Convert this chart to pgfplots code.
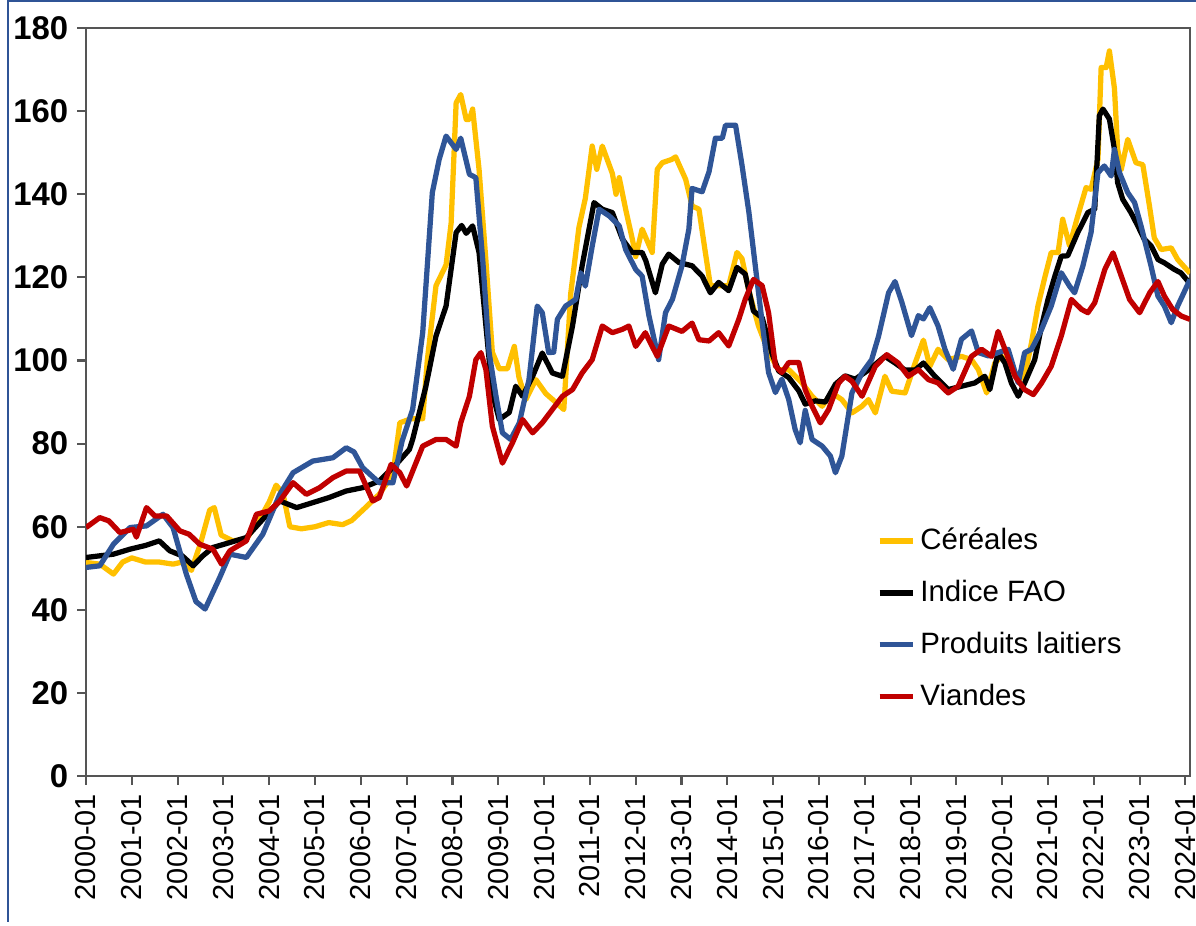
\documentclass[border=0pt]{standalone}
\usepackage{pgfplots}
\pgfplotsset{compat=1.18}
\usepackage{fontspec}
\setmainfont{Liberation Sans}
\definecolor{cYel}{RGB}{255,192,0}
\definecolor{cBlu}{RGB}{47,85,151}
\definecolor{cRed}{RGB}{192,0,0}
\definecolor{cFrame}{RGB}{47,84,150}
\definecolor{cAxis}{RGB}{85,85,85}
\begin{document}
\begin{tikzpicture}
\useasboundingbox (-1.1505,-1.993) rectangle (14.849,10.382);
\draw[cFrame, line width=0.6pt] (-1.043,-1.95) -- (-1.043,10.372) -- (14.849,10.372);
\begin{axis}[
  at={(0,0)}, anchor=south west,
  scale only axis,
  width=14.769cm, height=10.007cm,
  xmin=2000, xmax=2024.1,
  ymin=0, ymax=180,
  axis line style={cAxis, line width=0.9pt},
  every tick/.style={cAxis, line width=0.8pt},
  tick align=outside,
  major tick length=3.3pt,
  xtick pos=bottom, ytick pos=left,
  xtick={2000,2001,...,2024},
  xticklabels={2000-01,2001-01,2002-01,2003-01,2004-01,2005-01,2006-01,2007-01,2008-01,2009-01,2010-01,2011-01,2012-01,2013-01,2014-01,2015-01,2016-01,2017-01,2018-01,2019-01,2020-01,2021-01,2022-01,2023-01,2024-01},
  xticklabel style={rotate=90, anchor=east, font=\fontsize{11}{13}\selectfont},
  ytick={0,20,...,180},
  yticklabel style={font=\bfseries\fontsize{12.5}{14}\selectfont},
  /pgf/number format/assume math mode=true,
  legend style={at={(0.716,0.339)}, anchor=north west, draw=none, fill=none,
    font=\fontsize{11.2}{13}\selectfont, row sep=6.1pt, inner sep=0pt},
  legend cell align=left,
  legend image code/.code={\draw[#1] (0cm,0cm) -- (0.44cm,0cm);},
  every axis plot/.append style={line width=2pt, line join=round, no markers},
]
\addplot[cYel] coordinates {
(2000.00,51.4) (2000.3,51) (2000.6,48.6) (2000.8,51.5) (2001.0,52.5) (2001.3,51.5) (2001.6,51.5) (2001.9,51) (2002.1,51.5) (2002.3,49.5) (2002.5,56) (2002.7,64) (2002.8,64.6) (2002.95,58) (2003.2,56.6) (2003.5,57) (2003.8,62) (2004.0,66) (2004.15,70) (2004.3,68) (2004.45,60) (2004.7,59.5) (2005.0,60) (2005.3,61) (2005.6,60.5) (2005.8,61.5) (2006.1,64.6) (2006.4,67.8) (2006.7,72.6) (2006.85,85) (2007.1,86) (2007.35,86) (2007.45,100) (2007.64,118) (2007.86,123) (2007.97,133) (2008.08,162) (2008.18,164) (2008.3,158) (2008.37,158) (2008.44,160.5) (2008.58,146) (2008.73,124) (2008.87,102) (2009.02,98) (2009.2,98) (2009.35,103.4) (2009.45,96) (2009.6,90.6) (2009.82,95.4) (2010.04,92) (2010.25,90) (2010.43,88.2) (2010.58,116) (2010.76,132) (2010.9,139) (2011.05,151.6) (2011.15,146) (2011.27,151.6) (2011.49,145) (2011.57,140) (2011.64,144) (2011.78,136.4) (2011.93,129) (2012.0,125) (2012.14,131.6) (2012.36,126) (2012.47,146) (2012.58,147.6) (2012.79,148.4) (2012.87,149) (2013.09,143.6) (2013.23,137.2) (2013.38,136.4) (2013.52,126) (2013.63,118) (2014.03,118) (2014.21,126) (2014.32,124.5) (2014.47,116.8) (2014.68,108.3) (2014.9,102) (2015.12,97.8) (2015.34,97.8) (2015.63,94.6) (2015.85,91.4) (2016.07,89) (2016.28,92.2) (2016.5,90.6) (2016.72,87.4) (2016.94,89) (2017.08,90.6) (2017.23,87.4) (2017.44,96.2) (2017.59,92.6) (2017.88,92.2) (2018.1,99.4) (2018.28,104.9) (2018.42,98.6) (2018.6,102.7) (2018.82,100.2) (2019.11,101) (2019.33,100.2) (2019.48,97.8) (2019.66,92.2) (2019.84,99.4) (2019.99,101) (2020.2,97.8) (2020.35,95.4) (2020.49,96.2) (2020.64,104.3) (2020.78,113.1) (2020.93,120) (2021.07,126) (2021.22,126) (2021.32,134) (2021.47,127.6) (2021.65,134.8) (2021.83,141.6) (2021.94,141.2) (2022.09,148.4) (2022.16,170.5) (2022.27,170.5) (2022.34,174.5) (2022.45,165.5) (2022.52,150.8) (2022.6,146) (2022.74,153.2) (2022.92,147.6) (2023.07,147.1) (2023.21,137.5) (2023.32,129.5) (2023.47,126.7) (2023.69,127.1) (2023.83,124.3) (2024.1,121)
};
\addlegendentry{Céréales}
\addplot[black] coordinates {
(2000.0,52.6) (2000.3,53) (2000.6,53.4) (2000.96,54.6) (2001.3,55.5) (2001.6,56.6) (2001.83,54.2) (2002.1,53) (2002.34,50.6) (2002.55,53) (2002.77,55) (2003.14,56.2) (2003.5,57.4) (2003.86,61.8) (2004.23,66.2) (2004.6,64.6) (2004.95,65.8) (2005.3,67) (2005.68,68.6) (2006.04,69.4) (2006.4,71) (2006.77,75) (2007.06,78.6) (2007.13,81) (2007.42,93.8) (2007.64,105.9) (2007.86,113.1) (2008.08,130.8) (2008.2,132.5) (2008.3,130.6) (2008.44,132.4) (2008.58,126) (2008.73,108.3) (2008.87,92.2) (2009.02,85.8) (2009.24,87.5) (2009.38,93.8) (2009.53,91.4) (2009.75,96.2) (2009.96,101.8) (2010.18,97) (2010.4,96.2) (2010.62,108.3) (2010.83,122.8) (2011.09,138) (2011.27,136.4) (2011.49,135.6) (2011.71,129.2) (2011.92,126) (2012.14,126) (2012.22,124) (2012.43,116.3) (2012.58,123.2) (2012.72,125.6) (2012.94,123.6) (2013.23,122.8) (2013.45,120.3) (2013.63,116.3) (2013.81,118.8) (2014.03,116.8) (2014.21,122.4) (2014.39,120.8) (2014.57,111.9) (2014.76,110.3) (2014.98,101.5) (2015.12,97.5) (2015.34,95.9) (2015.56,92.7) (2015.7,89.5) (2015.92,90.3) (2016.14,90) (2016.36,94.3) (2016.57,96.3) (2016.79,95.5) (2017.08,97.7) (2017.44,101) (2017.66,99.4) (2017.88,97.7) (2018.1,97.7) (2018.28,99.4) (2018.53,96.2) (2018.82,93) (2019.11,93.8) (2019.4,94.6) (2019.62,96.2) (2019.73,93) (2019.91,101.9) (2020.06,99.4) (2020.2,94.6) (2020.35,91.4) (2020.49,94.6) (2020.71,100.2) (2020.86,108.3) (2021.0,114.7) (2021.15,120.3) (2021.29,125.1) (2021.43,125.2) (2021.65,130.8) (2021.87,135.6) (2022.02,136.4) (2022.12,158.9) (2022.2,160.5) (2022.34,158.1) (2022.45,150.8) (2022.52,142.8) (2022.63,138.8) (2022.81,135.6) (2022.96,132.4) (2023.1,129.2) (2023.25,127.6) (2023.4,124.3) (2023.54,123.5) (2023.76,121.9) (2023.9,121.1) (2024.1,118.5)
};
\addlegendentry{Indice FAO}
\addplot[cBlu] coordinates {
(2000.0,50.2) (2000.3,50.6) (2000.6,55.8) (2000.96,59.8) (2001.32,60.2) (2001.68,63) (2001.9,59.8) (2002.19,48.6) (2002.4,42) (2002.6,40.2) (2002.92,47.8) (2003.14,53.4) (2003.5,52.6) (2003.86,58.2) (2004.23,67.8) (2004.52,73) (2004.95,75.8) (2005.39,76.6) (2005.68,79) (2005.85,78) (2006.04,74.2) (2006.4,70.6) (2006.7,70.6) (2006.9,80.6) (2007.13,88.2) (2007.35,106.7) (2007.56,140.4) (2007.71,148.4) (2007.86,154) (2008.08,150.8) (2008.18,153.5) (2008.37,144.8) (2008.51,144) (2008.66,124.3) (2008.8,101.9) (2008.95,91.4) (2009.09,82.6) (2009.27,81) (2009.46,85) (2009.67,95.4) (2009.85,113.1) (2009.96,111.5) (2010.1,101.9) (2010.21,102) (2010.29,109.9) (2010.47,113.1) (2010.69,114.7) (2010.8,121.1) (2010.9,117.9) (2011.05,127.5) (2011.2,136.4) (2011.42,134.8) (2011.64,132.4) (2011.78,126.7) (2012.0,121.9) (2012.14,120.3) (2012.29,110.7) (2012.5,100.2) (2012.65,111.5) (2012.8,114.7) (2013.01,122.8) (2013.16,131.6) (2013.23,141.4) (2013.45,140.6) (2013.6,145.4) (2013.74,153.5) (2013.89,153.5) (2013.96,156.6) (2014.18,156.6) (2014.32,147) (2014.47,135.7) (2014.61,122.8) (2014.76,109.1) (2014.9,97.1) (2015.05,92.3) (2015.19,95.5) (2015.34,90.6) (2015.48,83.4) (2015.59,80.2) (2015.7,88) (2015.85,81) (2016.07,79.4) (2016.25,77) (2016.36,73) (2016.5,77) (2016.72,92.2) (2016.94,97) (2017.15,100.2) (2017.3,105.8) (2017.52,116.3) (2017.66,119) (2017.81,114) (2018.02,106) (2018.17,110.8) (2018.28,110) (2018.42,112.7) (2018.6,108.3) (2018.75,102.7) (2018.93,97.9) (2019.11,105.1) (2019.33,107.1) (2019.48,101.9) (2019.7,101.1) (2019.91,101.9) (2020.13,102.7) (2020.35,94.6) (2020.49,101.9) (2020.64,102.7) (2020.86,107.5) (2021.07,113.1) (2021.29,121.1) (2021.47,117.9) (2021.58,116.3) (2021.76,122.7) (2021.94,130.8) (2022.09,145.2) (2022.23,146.8) (2022.38,144.4) (2022.45,150.8) (2022.56,145.2) (2022.74,140.4) (2022.89,138) (2023.03,132.4) (2023.25,122.7) (2023.4,115.5) (2023.54,113.1) (2023.69,109.1) (2023.83,113.1) (2024.1,119.5)
};
\addlegendentry{Produits laitiers}
\addplot[cRed] coordinates {
(2000.0,59.8) (2000.15,61) (2000.3,62.2) (2000.5,61.4) (2000.74,58.6) (2001.03,59.4) (2001.1,57.5) (2001.32,64.6) (2001.5,62.6) (2001.76,62.6) (2002.05,59) (2002.25,58.2) (2002.48,55.8) (2002.77,54.6) (2002.96,51) (2003.14,54.2) (2003.5,56.6) (2003.72,63) (2004.0,63.8) (2004.23,66.2) (2004.52,70.6) (2004.81,67.8) (2005.1,69.4) (2005.39,71.8) (2005.68,73.4) (2005.97,73.4) (2006.26,66.2) (2006.4,67) (2006.66,75) (2006.85,73) (2007.0,69.8) (2007.35,79.4) (2007.64,81) (2007.86,81) (2008.08,79.4) (2008.18,85) (2008.37,91.4) (2008.51,100.2) (2008.62,101.9) (2008.73,97.8) (2008.87,84.2) (2009.09,75.3) (2009.31,80.2) (2009.53,85.8) (2009.75,82.6) (2009.96,85) (2010.18,88.2) (2010.4,91.4) (2010.62,93) (2010.83,97) (2011.05,100.2) (2011.27,108.3) (2011.49,106.7) (2011.71,107.5) (2011.85,108.3) (2012.0,103.4) (2012.21,106.7) (2012.47,101) (2012.72,108.3) (2013.01,107) (2013.23,109) (2013.38,105) (2013.6,104.7) (2013.81,106.7) (2014.03,103.5) (2014.25,109.9) (2014.39,114.7) (2014.57,119.5) (2014.76,118) (2014.9,111.5) (2015.05,98.7) (2015.19,97.1) (2015.34,99.5) (2015.56,99.5) (2015.7,93) (2015.85,89) (2016.03,85) (2016.21,88.2) (2016.43,94.6) (2016.57,96.2) (2016.72,95) (2016.94,91.4) (2017.23,98.6) (2017.48,101.4) (2017.73,99.4) (2017.95,96.2) (2018.17,97.8) (2018.39,95.4) (2018.6,94.6) (2018.82,92.2) (2019.04,93.8) (2019.33,101) (2019.55,102.7) (2019.77,101) (2019.91,107) (2020.06,102.7) (2020.28,96.2) (2020.49,93) (2020.68,91.8) (2020.86,94.6) (2021.07,98.6) (2021.29,105.9) (2021.51,114.7) (2021.73,112.3) (2021.87,111.5) (2022.02,113.9) (2022.24,121.9) (2022.42,125.9) (2022.6,120.3) (2022.78,114.7) (2023.0,111.5) (2023.22,116.3) (2023.4,119) (2023.54,115.5) (2023.72,112.3) (2023.91,110.7) (2024.1,109.9)
};
\addlegendentry{Viandes}
\end{axis}
\end{tikzpicture}
\end{document}
